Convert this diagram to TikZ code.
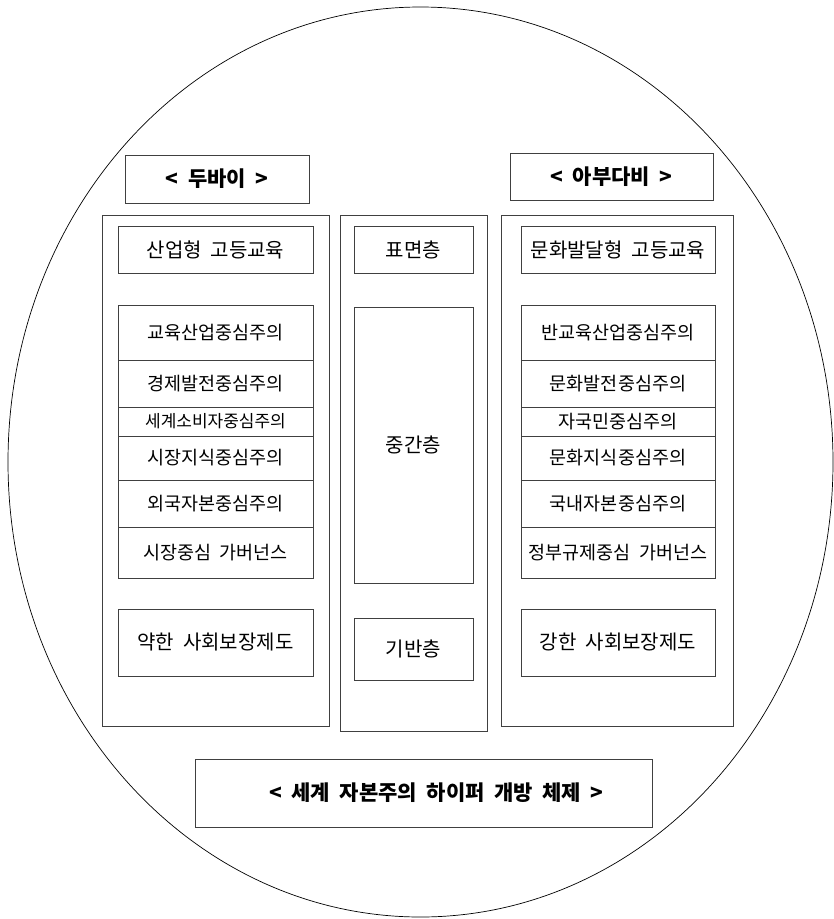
\documentclass[tikz,border=0pt]{standalone}
\usepackage{fontspec}
\setmainfont{Noto Sans CJK KR}
\usepackage{tikz}
\usetikzlibrary{positioning,shapes.geometric}

\begin{document}
\begin{tikzpicture}
      [ x=1pt, y=-1pt, line width=0.8pt,
        frame/.style={draw=black!75, outer sep=0pt, inner sep=0pt},
        headbox/.style={frame, font=\fontsize{21}{23}\bfseries},
        panel/.style={frame, minimum width=#1},
        itembox/.style={frame, font=\fontsize{20}{22}\selectfont},
        listbox/.style={frame, font=\fontsize{18.5}{20}\selectfont},
        thinrow/.style={listbox, font=\fontsize{17}{18}\selectfont}
      ]
      \useasboundingbox (0,0) rectangle (834,919);

      \node[ellipse, draw, line width=0.7pt, minimum width=825pt, minimum height=910pt]
                              (world)    at (420.5,462)          {};

      % Dubai
      \node[headbox, minimum width=184pt, minimum height=48pt]
                              (dubai)    at (217,179)            {<\ \ 두바이\ \ >};
      \node[panel=227pt, minimum height=511pt]
                              (dubaipanel) at (215.5,470.5)      {};
      \node[itembox, minimum width=195pt, minimum height=47pt]
                              (dubaiedu) at (215.5,249.5)        {산업형\ \ 고등교육};
      \node[listbox, minimum width=195pt, minimum height=55pt]
                              (dubai1)   [below=32pt of dubaiedu] {교육산업중심주의};
      \node[listbox, minimum width=195pt, minimum height=47pt]
                              (dubai2)   [below=0pt of dubai1]   {경제발전중심주의};
      \node[thinrow, minimum width=195pt, minimum height=29pt]
                              (dubai3)   [below=0pt of dubai2]   {세계소비자중심주의};
      \node[listbox, minimum width=195pt, minimum height=44pt]
                              (dubai4)   [below=0pt of dubai3]   {시장지식중심주의};
      \node[listbox, minimum width=195pt, minimum height=47pt]
                              (dubai5)   [below=0pt of dubai4]   {외국자본중심주의};
      \node[listbox, minimum width=195pt, minimum height=51pt]
                              (dubai6)   [below=0pt of dubai5]   {시장중심\ \ 가버넌스};
      \node[itembox, minimum width=195pt, minimum height=67pt]
                              (dubaiwelfare) [below=31pt of dubai6] {약한\ \ 사회보장제도};

      % layers
      \node[panel=147pt, minimum height=516pt]
                              (layers)   at (413.5,473)          {};
      \node[itembox, minimum width=119pt, minimum height=47pt]
                              (surface)  at (413.5,249.5)        {표면층};
      \node[itembox, minimum width=119pt, minimum height=276pt]
                              (middle)   [below=34pt of surface] {중간층};
      \node[itembox, minimum width=119pt, minimum height=62pt]
                              (base)     [below=35pt of middle]  {기반층};

      % Abu Dhabi
      \node[headbox, minimum width=203pt, minimum height=47pt]
                              (abudhabi) at (611.5,176.5)        {<\ \ 아부다비\ \ >};
      \node[panel=232pt, minimum height=511pt]
                              (abupanel) at (617,470.5)          {};
      \node[itembox, minimum width=194pt, minimum height=47pt]
                              (abuedu)   at (618,249.5)          {문화발달형\ \ 고등교육};
      \node[listbox, minimum width=194pt, minimum height=55pt]
                              (abu1)     [below=32pt of abuedu]  {반교육산업중심주의};
      \node[listbox, minimum width=194pt, minimum height=47pt]
                              (abu2)     [below=0pt of abu1]     {문화발전중심주의};
      \node[listbox, minimum width=194pt, minimum height=29pt]
                              (abu3)     [below=0pt of abu2]     {자국민중심주의};
      \node[listbox, minimum width=194pt, minimum height=44pt]
                              (abu4)     [below=0pt of abu3]     {문화지식중심주의};
      \node[listbox, minimum width=194pt, minimum height=47pt]
                              (abu5)     [below=0pt of abu4]     {국내자본중심주의};
      \node[listbox, minimum width=194pt, minimum height=51pt]
                              (abu6)     [below=0pt of abu5]     {정부규제중심\ \ 가버넌스};
      \node[itembox, minimum width=194pt, minimum height=67pt]
                              (abuwelfare) [below=31pt of abu6]  {강한\ \ 사회보장제도};

      \node[headbox, minimum width=457pt, minimum height=68pt]
                              (regime)   at (423.5,793)
                              {\hspace{26pt}<\ \ 세계\ \ 자본주의\ \ 하이퍼\ \ 개방\ \ 체제\ \ >};
\end{tikzpicture}
\end{document}
